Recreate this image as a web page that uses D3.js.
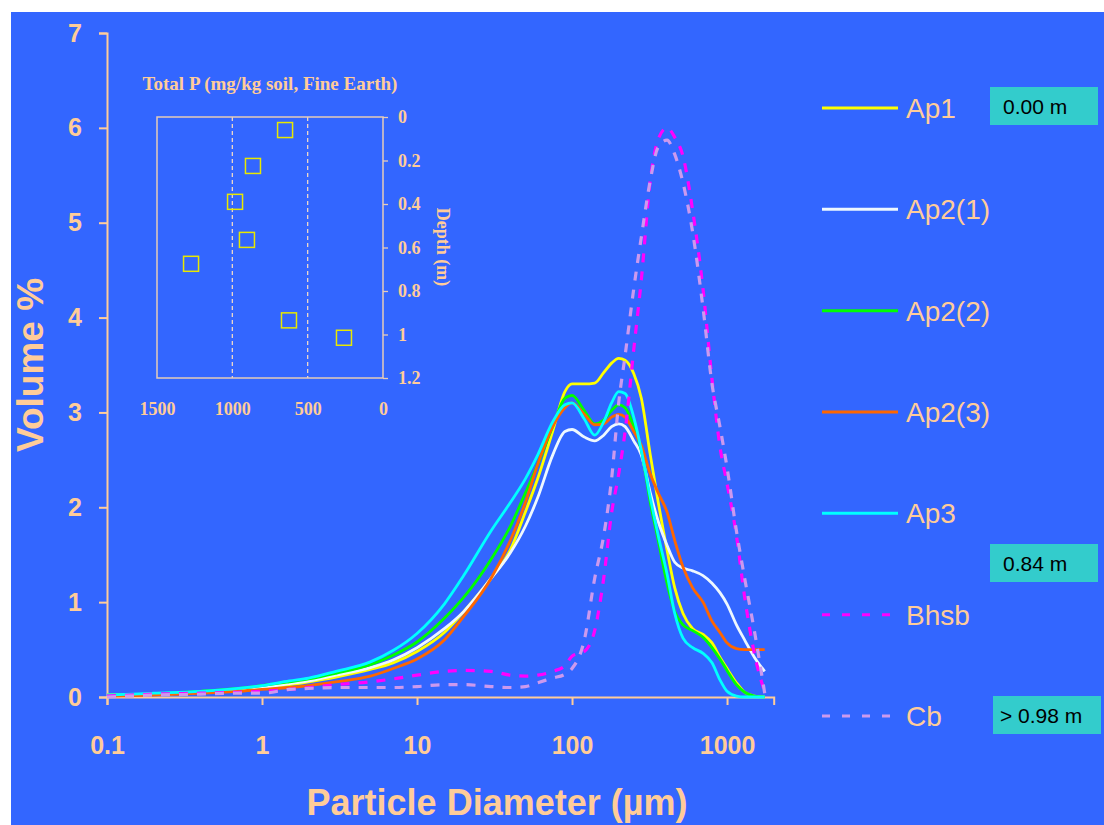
<!DOCTYPE html>
<html>
<head>
<meta charset="utf-8">
<script src="https://cdn.jsdelivr.net/npm/d3@7"></script>
<style>
  body { margin: 0; background: #fff; }
  svg { display: block; }
</style>
</head>
<body>
<svg id="chart" width="1104" height="825"></svg>
<script>
// particle size classes (µm) shared by all curves
const diam = [0.1, 0.2, 0.4, 0.7, 1, 1.5, 2, 3, 5, 7, 10, 15, 20, 30, 40, 50, 60, 75, 90, 100,
  120, 140, 160, 180, 200, 220, 250, 280, 320, 360, 410, 460, 520, 600, 700, 800, 900, 1000,
  1150, 1300, 1500, 1750];

// volume % per horizon
const ap1 = [0.02, 0.03, 0.05, 0.08, 0.1, 0.13, 0.16, 0.21, 0.29, 0.36, 0.48, 0.68, 0.9, 1.25, 1.55, 1.95, 2.3, 2.8, 3.22, 3.3,
  3.3, 3.31, 3.42, 3.52, 3.57, 3.55, 3.41, 3.15, 2.55, 2.05, 1.55, 1.15, 0.88, 0.72, 0.66, 0.57, 0.42, 0.3,
  0.15, 0.05, 0.01, 0];
const ap21 = [0.02, 0.03, 0.05, 0.08, 0.1, 0.14, 0.17, 0.23, 0.31, 0.39, 0.52, 0.72, 0.9, 1.25, 1.52, 1.8, 2.1, 2.55, 2.8, 2.82,
  2.74, 2.7, 2.76, 2.85, 2.88, 2.85, 2.7, 2.55, 2.15, 1.85, 1.6, 1.42, 1.36, 1.33, 1.28, 1.2, 1.1, 0.98,
  0.76, 0.6, 0.42, 0.27];
const ap22 = [0.02, 0.03, 0.06, 0.09, 0.12, 0.16, 0.19, 0.25, 0.34, 0.44, 0.58, 0.83, 1.05, 1.45, 1.8, 2.15, 2.45, 2.85, 3.15, 3.18,
  3.02, 2.88, 2.92, 3.02, 3.08, 3.05, 2.85, 2.6, 2.05, 1.65, 1.2, 0.9, 0.76, 0.7, 0.63, 0.52, 0.4, 0.28,
  0.13, 0.05, 0.01, 0];
const ap23 = [0.01, 0.02, 0.04, 0.06, 0.08, 0.1, 0.12, 0.16, 0.22, 0.3, 0.4, 0.6, 0.85, 1.25, 1.65, 2.05, 2.45, 2.85, 3.05, 3.1,
  2.98, 2.87, 2.88, 2.95, 2.98, 2.95, 2.8, 2.65, 2.35, 2.15, 1.95, 1.65, 1.37, 1.15, 1.0, 0.8, 0.68, 0.57,
  0.51, 0.5, 0.5, 0.5];
const ap3 = [0.02, 0.04, 0.06, 0.09, 0.12, 0.17, 0.2, 0.27, 0.37, 0.49, 0.67, 0.98, 1.28, 1.75, 2.05, 2.3, 2.55, 2.9, 3.08, 3.1,
  2.93, 2.76, 2.9, 3.1, 3.22, 3.2, 2.95, 2.6, 2.1, 1.7, 1.3, 0.88, 0.62, 0.52, 0.46, 0.36, 0.18, 0.06,
  0.01, 0, 0, 0];
const bhsb = [0.01, 0.03, 0.04, 0.05, 0.06, 0.08, 0.1, 0.13, 0.16, 0.19, 0.23, 0.27, 0.28, 0.27, 0.23, 0.22, 0.23, 0.27, 0.33, 0.43,
  0.48, 0.7, 1.25, 1.94, 2.35, 2.8, 3.66, 4.4, 5.45, 5.88, 6.0, 5.9, 5.7, 5.13, 4.3, 3.35, 2.64, 2.25,
  1.7, 1.05, 0.46, 0.05];
const cb = [0.0, 0.02, 0.03, 0.04, 0.04, 0.08, 0.09, 0.1, 0.1, 0.1, 0.11, 0.13, 0.13, 0.11, 0.1, 0.11, 0.15, 0.2, 0.24, 0.3,
  0.6, 1.25, 1.7, 2.3, 3.1, 3.6, 4.3, 4.85, 5.45, 5.8, 5.87, 5.72, 5.42, 4.9, 4.1, 3.3, 2.85, 2.42,
  1.75, 1.25, 0.7, 0.04];

const seriesNames = ["Ap1", "Ap2(1)", "Ap2(2)", "Ap2(3)", "Ap3", "Bhsb", "Cb"];
const seriesColors = ["#ffff00", "#eef8ff", "#00ff00", "#ff6600", "#00ffff", "#ff00ff", "#cc99ee"];
const seriesDash = [null, null, null, null, null, "9,9", "9,9"];
const seriesVals = [ap1, ap21, ap22, ap23, ap3, bhsb, cb];

const xTicks = [0.1, 1, 10, 100, 1000];
const yTicks = [0, 1, 2, 3, 4, 5, 6, 7];

// inset: total P vs depth
const pTotal = [650, 863, 982, 903, 1274, 624, 259];
const pDepth = [0.06, 0.225, 0.39, 0.565, 0.675, 0.935, 1.015];
const insetXTicks = [1500, 1000, 500, 0];
const insetYTicks = [0, 0.2, 0.4, 0.6, 0.8, 1, 1.2];

// depth badges
const badgeText = ["0.00 m", "0.84 m", "> 0.98 m"];
const badgeRow = [0, 4.5, 6];

const peach = "#ffcc99";
const svg = d3.select("#chart");

svg.append("rect").attr("x", 11).attr("y", 12).attr("width", 1093).attr("height", 813).attr("fill", "#3366ff");

const x = d3.scaleLog().domain([0.1, 2000]).range([107, 773.7]);
const y = d3.scaleLinear().domain([0, 7]).range([697, 33]);

// axes
const xAxis = svg.append("g").attr("transform", "translate(0,697)")
  .call(d3.axisBottom(x).tickValues(xTicks).tickFormat(d3.format("~g")).tickSize(8).tickPadding(31));
const yAxis = svg.append("g").attr("transform", "translate(107,0)")
  .call(d3.axisLeft(y).tickValues(yTicks).tickFormat(d3.format("d")).tickSize(8).tickPadding(17));
[xAxis, yAxis].forEach(g => {
  g.select(".domain").attr("stroke", peach).attr("stroke-width", 2);
  g.selectAll(".tick line").attr("stroke", peach).attr("stroke-width", 2);
  g.selectAll(".tick text").attr("fill", peach)
    .style("font", "bold 25px 'Liberation Sans', Arial, sans-serif");
});

svg.append("text").attr("x", 497).attr("y", 815).attr("text-anchor", "middle")
  .attr("fill", peach).style("font", "bold 36px 'Liberation Sans', Arial, sans-serif")
  .text("Particle Diameter (µm)");
svg.append("text").attr("transform", "translate(43,365) rotate(-90)").attr("text-anchor", "middle")
  .attr("fill", peach).style("font", "bold 37px 'Liberation Sans', Arial, sans-serif")
  .text("Volume %");

// curves
const line = d3.line().x(d => x(d[0])).y(d => y(d[1])).curve(d3.curveMonotoneX);
seriesVals.forEach((vals, i) => {
  svg.append("path")
    .datum(diam.map((d, j) => [d, vals[j]]))
    .attr("d", line)
    .attr("fill", "none")
    .attr("stroke", seriesColors[i])
    .attr("stroke-width", i >= 5 ? 3.2 : 2.8)
    .attr("stroke-dasharray", seriesDash[i]);
});

// legend
const legY = d3.scaleLinear().domain([0, 6]).range([108, 716]);
seriesNames.forEach((name, i) => {
  svg.append("line").attr("x1", 822).attr("x2", 898).attr("y1", legY(i)).attr("y2", legY(i))
    .attr("stroke", seriesColors[i]).attr("stroke-width", 3)
    .attr("stroke-dasharray", seriesDash[i] ? "8,12" : null);
  svg.append("text").attr("x", 906).attr("y", legY(i) + 10).attr("fill", peach)
    .style("font", "28px 'Liberation Sans', Arial, sans-serif").text(name);
});

badgeText.forEach((t, i) => {
  const cy = legY(badgeRow[i]) - 1 + (i === 0 ? -1 : 0);
  const bx = i === 2 ? 993 : 990;
  svg.append("rect").attr("x", bx).attr("y", cy - 19).attr("width", 108).attr("height", 38).attr("fill", "#33cccc");
  svg.append("text").attr("x", bx + (i === 2 ? 7 : 13)).attr("y", cy + 8).attr("fill", "#000")
    .style("font", "21px 'Liberation Sans', Arial, sans-serif").text(t);
});

// inset chart
const ix = d3.scaleLinear().domain([1500, 0]).range([157, 383]);
const iy = d3.scaleLinear().domain([0, 1.2]).range([117, 378]);
const inset = svg.append("g");
const serif = "bold 18px 'Liberation Serif', 'Times New Roman', serif";

inset.selectAll(".grid").data([1000, 500]).join("line")
  .attr("x1", d => ix(d)).attr("x2", d => ix(d)).attr("y1", iy(0)).attr("y2", iy(1.2))
  .attr("stroke", "#eed8c8").attr("stroke-width", 1.3).attr("stroke-dasharray", "4,3");
inset.append("rect").attr("x", ix(1500)).attr("y", iy(0)).attr("width", ix(0) - ix(1500)).attr("height", iy(1.2) - iy(0))
  .attr("fill", "none").attr("stroke", "#e6ccb8").attr("stroke-width", 1.5);

const iyAxis = inset.append("g").attr("transform", `translate(${ix(0)},0)`)
  .call(d3.axisRight(iy).tickValues(insetYTicks).tickFormat(d3.format("~g")).tickSize(5).tickPadding(10));
iyAxis.select(".domain").remove();
iyAxis.selectAll(".tick line").attr("stroke", "#e6ccb8").attr("stroke-width", 1.3);
iyAxis.selectAll(".tick text").attr("fill", peach).style("font", serif);

const ixAxis = inset.append("g").attr("transform", `translate(0,${iy(1.2)})`)
  .call(d3.axisBottom(ix).tickValues(insetXTicks).tickFormat(d3.format("d")).tickSize(0).tickPadding(24));
ixAxis.select(".domain").remove();
ixAxis.selectAll(".tick text").attr("fill", peach).style("font", serif);

inset.append("text").attr("x", 270).attr("y", 90).attr("text-anchor", "middle").attr("fill", peach)
  .style("font", "bold 19px 'Liberation Serif', 'Times New Roman', serif").text("Total P (mg/kg soil, Fine Earth)");
inset.append("text").attr("transform", "translate(437,247) rotate(90)").attr("text-anchor", "middle")
  .attr("fill", peach).style("font", "bold 18px 'Liberation Serif', 'Times New Roman', serif").text("Depth (m)");

inset.selectAll(".pt").data(pTotal.map((p, i) => [p, pDepth[i]])).join("rect")
  .attr("x", d => ix(d[0]) - 7.5).attr("y", d => iy(d[1]) - 7.5).attr("width", 15).attr("height", 15)
  .attr("fill", "none").attr("stroke", "#e8e800").attr("stroke-width", 1.5);
</script>
</body>
</html>
